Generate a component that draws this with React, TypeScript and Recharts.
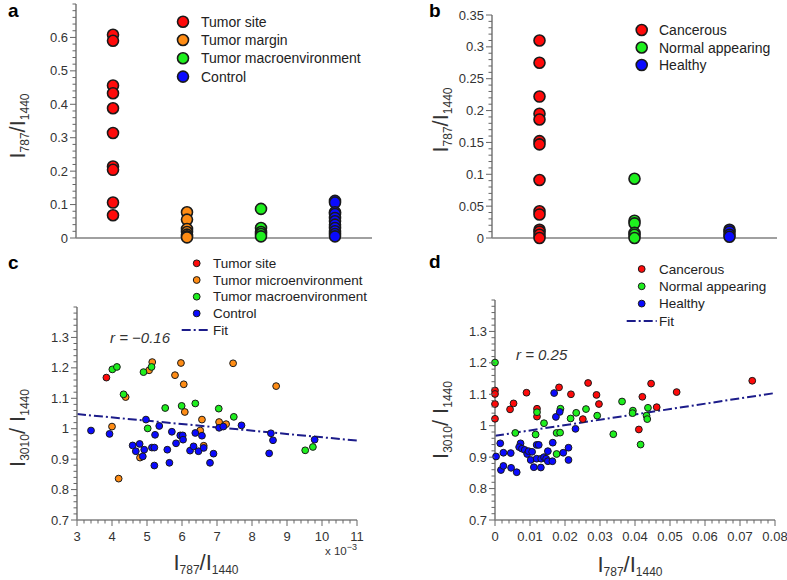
import React from "react";
import { ScatterChart, Scatter, XAxis, YAxis, ReferenceLine } from "recharts";

// ---- panel a: I787/I1440 by tissue group ----
const groupsA = ["Tumor site", "Tumor margin", "Tumor macroenvironment", "Control"];
const aTumorSite = [0.608, 0.59, 0.456, 0.433, 0.388, 0.314, 0.214, 0.204, 0.106, 0.068];
const aTumorMargin = [0.077, 0.055, 0.027, 0.018, 0.01, 0.005, 0.002];
const aMacro = [0.087, 0.03, 0.018, 0.012, 0.005];
const aControl = [0.111, 0.106, 0.077, 0.072, 0.06, 0.05, 0.04, 0.03, 0.02, 0.012, 0.005];

// ---- panel b ----
const groupsB = ["Cancerous", "Normal appearing", "Healthy"];
const bCancerous = [0.31, 0.275, 0.222, 0.195, 0.186, 0.152, 0.147, 0.091, 0.042, 0.037, 0.013, 0.01, 0.005, 0.0];
const bNormal = [0.093, 0.027, 0.023, 0.008, 0.005, 0.0];
const bHealthy = [0.013, 0.01, 0.005, 0.002];

// ---- panel c: I3010/I1440 vs I787/I1440 (x in 1e-3) ----
const cLegend = ["Tumor site", "Tumor microenvironment", "Tumor macroenvironment", "Control"];
const cSiteX = [3.84];
const cSiteY = [1.168];
const cMicroX = [5.15, 5.06, 5.97, 5.8, 6.05, 7.46, 8.69, 4.39, 6.08, 6.57, 7.06, 7.26, 4.0, 6.52, 4.8, 6.62, 4.19];
const cMicroY = [1.219, 1.192, 1.216, 1.176, 1.146, 1.215, 1.14, 1.104, 1.055, 1.03, 1.022, 1.015, 1.007, 0.994, 0.905, 0.944, 0.836];
const cMacroX = [4.01, 4.14, 5.13, 4.9, 4.33, 5.52, 5.99, 6.38, 7.05, 7.48, 5.02, 9.52, 9.74];
const cMacroY = [1.195, 1.203, 1.203, 1.186, 1.113, 1.068, 1.075, 1.083, 1.066, 1.039, 1.001, 0.929, 0.94];
const cControlX = [4.97, 5.35, 3.4, 3.93, 5.71, 5.23, 5.95, 6.02, 6.03, 6.38, 6.57, 4.59, 4.79, 4.68, 4.92, 5.14, 5.21, 5.58, 5.83, 4.88, 5.21, 5.64, 6.23, 6.33, 6.47, 6.62, 6.9, 6.8, 7.06, 7.18, 7.7, 8.54, 8.6, 9.79, 8.49];
const cControlY = [1.03, 1.009, 0.994, 0.983, 0.99, 0.98, 0.978, 0.978, 0.964, 0.986, 0.977, 0.945, 0.95, 0.926, 0.931, 0.938, 0.938, 0.931, 0.952, 0.909, 0.879, 0.888, 0.928, 0.942, 0.926, 0.937, 0.918, 0.888, 1.003, 1.007, 1.011, 0.985, 0.962, 0.964, 0.919];
const cFitX = [3, 11];
const cFitY = [1.048, 0.961];

// ---- panel d ----
const dCancerX = [0, 0, 0, 0, 0.009, 0.0053, 0.0043, 0.0183, 0.0217, 0.0266, 0.029, 0.0297, 0.012, 0.012, 0.0251, 0.0446, 0.0421, 0.0519, 0.0735, 0.0462, 0.0411];
const dCancerY = [1.112, 1.101, 1.069, 1.022, 1.105, 1.071, 1.052, 1.122, 1.1, 1.136, 1.098, 1.069, 1.054, 1.029, 1.021, 1.134, 1.092, 1.107, 1.143, 1.059, 0.988];
const dNormalX = [0, 0.012, 0.0187, 0.0232, 0.0216, 0.026, 0.0292, 0.014, 0.0058, 0.0116, 0.0176, 0.0186, 0.0176, 0.0363, 0.0338, 0.0394, 0.0393, 0.0437, 0.0433, 0.0435, 0.0416];
const dNormalY = [1.201, 1.043, 1.054, 1.041, 1.023, 1.053, 1.032, 1.008, 0.977, 0.972, 0.977, 0.978, 0.91, 1.077, 0.973, 1.048, 1.04, 1.057, 1.032, 1.021, 0.94];
const dHealthyX = [0.0003, 0.0015, 0.0024, 0.0017, 0.0024, 0.0046, 0.0045, 0.0062, 0.0073, 0.0069, 0.0077, 0.0085, 0.0092, 0.0096, 0.0102, 0.0106, 0.0111, 0.0119, 0.0119, 0.0125, 0.0131, 0.0132, 0.014, 0.0146, 0.0151, 0.0151, 0.0164, 0.0165, 0.0195, 0.021, 0.021, 0.0174, 0.0185, 0.0169, 0.023];
const dHealthyY = [0.902, 0.944, 0.914, 0.859, 0.872, 0.866, 0.913, 0.852, 0.944, 0.932, 0.927, 0.923, 0.91, 0.919, 0.891, 0.917, 0.868, 0.939, 0.895, 0.939, 0.867, 0.895, 0.9, 0.895, 0.887, 0.919, 0.887, 0.946, 0.914, 0.93, 0.891, 1.028, 1.044, 1.104, 0.99];
const dFitX = [0, 0.08];
const dFitY = [0.968, 1.104];

// tick labels
const aMajor = [0, 0.1, 0.2, 0.3, 0.4, 0.5, 0.6];
const bMajor = [0, 0.05, 0.1, 0.15, 0.2, 0.25, 0.3, 0.35];
const cdYMajor = [0.7, 0.8, 0.9, 1, 1.1, 1.2, 1.3];
const cXMajor = [3, 4, 5, 6, 7, 8, 9, 10, 11];
const dXMajor = [0, 0.01, 0.02, 0.03, 0.04, 0.05, 0.06, 0.07, 0.08];

const RED = "#ff0a0a";
const ORANGE = "#ff8c14";
const GREEN = "#1eef1e";
const BLUE = "#0a0aff";
const NAVY = "#1c1c8a";
const FONT = "'Liberation Sans', Arial, sans-serif";
const AXIS = { stroke: "#808080", strokeWidth: 1.6 };

const steps = (from: number, to: number, step: number) => {
  const out: number[] = [];
  const n = Math.round((to - from) / step);
  for (let i = 0; i <= n; i++) out.push(Math.round((from + i * step) * 1e6) / 1e6);
  return out;
};
const isMajor = (majors: number[], v: number) => majors.some((m) => Math.abs(m - v) < 1e-7);
const fmt = (v: number) => String(Math.round(v * 1e6) / 1e6);

const yTick = (majors: number[]) => (p: any) => {
  const v = p.payload.value;
  const major = isMajor(majors, v);
  return (
    <g>
      <line x1={p.x} x2={p.x - (major ? 6 : 3.5)} y1={p.y} y2={p.y} stroke="#666" strokeWidth={1} />
      {major && (
        <text x={p.x - 8} y={p.y} textAnchor="end" dominantBaseline="central" fontSize={13} fill="#333" fontFamily={FONT}>
          {fmt(v)}
        </text>
      )}
    </g>
  );
};

const xTick = (majors: number[]) => (p: any) => {
  const v = p.payload.value;
  const major = isMajor(majors, v);
  return (
    <g>
      <line x1={p.x} x2={p.x} y1={p.y} y2={p.y + (major ? 6 : 3.5)} stroke="#666" strokeWidth={1} />
      {major && (
        <text x={p.x} y={p.y + 16} textAnchor="middle" dominantBaseline="central" fontSize={13} fill="#333" fontFamily={FONT}>
          {fmt(v)}
        </text>
      )}
    </g>
  );
};

const dot = (fill: string, r: number, sw: number) => (p: any) => (
  <circle cx={p.cx} cy={p.cy} r={r} fill={fill} stroke="#1a1a1a" strokeWidth={sw} />
);

const column = (i: number, vals: number[]) => vals.map((v) => ({ x: i + 0.5, y: v }));
const pairs = (xs: number[], ys: number[]) => xs.map((x, i) => ({ x, y: ys[i] }));

const RatioTitle = ({ x, y, top, rotate, gap }: { x: number; y: number; top: string; rotate?: boolean; gap?: string }) => (
  <text
    x={x}
    y={y}
    textAnchor="middle"
    fontFamily={FONT}
    fill="#333"
    transform={rotate ? `rotate(-90 ${x} ${y})` : undefined}
  >
    <tspan fontSize={22}>I</tspan>
    <tspan fontSize={12} dy={4}>{top}</tspan>
    <tspan fontSize={22} dy={-4}>{"/" + (gap || "") + "I"}</tspan>
    <tspan fontSize={12} dy={4}>1440</tspan>
  </text>
);

const legendRows = (
  labels: string[],
  colors: string[],
  cx: number,
  y0: number,
  dy: number,
  r: number,
  sw: number,
  tx: number,
  fs: number
) =>
  labels.map((l, i) => (
    <g key={l}>
      <circle cx={cx} cy={y0 + dy * i} r={r} fill={colors[i]} stroke="#1a1a1a" strokeWidth={sw} />
      <text x={tx} y={y0 + dy * i} dominantBaseline="central" fontSize={fs} fill="#222" fontFamily={FONT}>
        {l}
      </text>
    </g>
  ));

export default function App() {
  const colorsA = [RED, ORANGE, GREEN, BLUE];
  const colorsB = [RED, GREEN, BLUE];
  const seriesA = [aTumorSite, aTumorMargin, aMacro, aControl];
  const seriesB = [bCancerous, bNormal, bHealthy];

  return (
    <div style={{ position: "absolute", left: 0, top: 0, width: 787, height: 580, background: "#fff", fontFamily: FONT }}>
      {/* a */}
      <div style={{ position: "absolute", left: 0, top: 0 }}>
        <ScatterChart width={390} height={250} margin={{ top: 4, right: 18, bottom: 0, left: 0 }}>
          <XAxis type="number" dataKey="x" domain={[0, 4]} tick={false} tickLine={false} height={12} axisLine={AXIS} />
          <YAxis
            type="number"
            dataKey="y"
            domain={[0, 0.7]}
            ticks={steps(0, 0.7, 0.02)}
            interval={0}
            tick={yTick(aMajor)}
            tickLine={false}
            tickSize={0}
            tickMargin={0}
            width={76}
            axisLine={AXIS}
          />
          {seriesA.map((s, i) => (
            <Scatter key={groupsA[i]} name={groupsA[i]} data={column(i, s)} shape={dot(colorsA[i], 5.5, 1.6)} isAnimationActive={false} />
          ))}
        </ScatterChart>
      </div>
      {/* b */}
      <div style={{ position: "absolute", left: 390, top: 0 }}>
        <ScatterChart width={397} height={250} margin={{ top: 15, right: 10, bottom: 0, left: 0 }}>
          <XAxis type="number" dataKey="x" domain={[0, 3]} tick={false} tickLine={false} height={12} axisLine={AXIS} />
          <YAxis
            type="number"
            dataKey="y"
            domain={[0, 0.35]}
            ticks={steps(0, 0.35, 0.01)}
            interval={0}
            tick={yTick(bMajor)}
            tickLine={false}
            tickSize={0}
            tickMargin={0}
            width={102}
            axisLine={AXIS}
          />
          {seriesB.map((s, i) => (
            <Scatter key={groupsB[i]} name={groupsB[i]} data={column(i, s)} shape={dot(colorsB[i], 5.5, 1.6)} isAnimationActive={false} />
          ))}
        </ScatterChart>
      </div>
      {/* c */}
      <div style={{ position: "absolute", left: 0, top: 250 }}>
        <ScatterChart width={390} height={330} margin={{ top: 57, right: 33, bottom: 0, left: 0 }}>
          <XAxis
            type="number"
            dataKey="x"
            domain={[3, 11]}
            ticks={steps(3, 11, 0.2)}
            interval={0}
            tick={xTick(cXMajor)}
            tickLine={false}
            tickSize={0}
            tickMargin={0}
            height={60}
            axisLine={AXIS}
          />
          <YAxis
            type="number"
            dataKey="y"
            domain={[0.7, 1.4]}
            ticks={steps(0.7, 1.4, 0.02)}
            interval={0}
            tick={yTick(cdYMajor)}
            tickLine={false}
            tickSize={0}
            tickMargin={0}
            width={77}
            axisLine={AXIS}
          />
          <ReferenceLine
            segment={[
              { x: cFitX[0], y: cFitY[0] },
              { x: cFitX[1], y: cFitY[1] },
            ]}
            stroke={NAVY}
            strokeWidth={2}
            strokeDasharray="9 3 2 3"
          />
          <Scatter name="Tumor site" data={pairs(cSiteX, cSiteY)} shape={dot(RED, 3.4, 1)} isAnimationActive={false} />
          <Scatter name="Tumor microenvironment" data={pairs(cMicroX, cMicroY)} shape={dot(ORANGE, 3.4, 1)} isAnimationActive={false} />
          <Scatter name="Tumor macroenvironment" data={pairs(cMacroX, cMacroY)} shape={dot(GREEN, 3.4, 1)} isAnimationActive={false} />
          <Scatter name="Control" data={pairs(cControlX, cControlY)} shape={dot(BLUE, 3.4, 1)} isAnimationActive={false} />
        </ScatterChart>
      </div>
      {/* d */}
      <div style={{ position: "absolute", left: 390, top: 250 }}>
        <ScatterChart width={397} height={330} margin={{ top: 50, right: 12, bottom: 0, left: 0 }}>
          <XAxis
            type="number"
            dataKey="x"
            domain={[0, 0.08]}
            ticks={steps(0, 0.08, 0.002)}
            interval={0}
            tick={xTick(dXMajor)}
            tickLine={false}
            tickSize={0}
            tickMargin={0}
            height={60}
            axisLine={AXIS}
          />
          <YAxis
            type="number"
            dataKey="y"
            domain={[0.7, 1.4]}
            ticks={steps(0.7, 1.4, 0.02)}
            interval={0}
            tick={yTick(cdYMajor)}
            tickLine={false}
            tickSize={0}
            tickMargin={0}
            width={105}
            axisLine={AXIS}
          />
          <ReferenceLine
            segment={[
              { x: dFitX[0], y: dFitY[0] },
              { x: dFitX[1], y: dFitY[1] },
            ]}
            stroke={NAVY}
            strokeWidth={2}
            strokeDasharray="9 3 2 3"
          />
          <Scatter name="Cancerous" data={pairs(dCancerX, dCancerY)} shape={dot(RED, 3.4, 1)} isAnimationActive={false} />
          <Scatter name="Normal appearing" data={pairs(dNormalX, dNormalY)} shape={dot(GREEN, 3.4, 1)} isAnimationActive={false} />
          <Scatter name="Healthy" data={pairs(dHealthyX, dHealthyY)} shape={dot(BLUE, 3.4, 1)} isAnimationActive={false} />
        </ScatterChart>
      </div>

      {/* labels, legends and annotations */}
      <svg width={787} height={580} style={{ position: "absolute", left: 0, top: 0, pointerEvents: "none" }}>
        <g fontFamily={FONT} fontWeight="bold" fontSize={19} fill="#000">
          <text x={8} y={17}>a</text>
          <text x={429} y={17}>b</text>
          <text x={8} y={269}>c</text>
          <text x={429} y={268}>d</text>
        </g>

        {legendRows(groupsA, colorsA, 183, 21.7, 18.3, 5.5, 1.6, 201, 14)}
        {legendRows(groupsB, colorsB, 641.7, 30, 17.5, 5.5, 1.6, 659, 14)}
        {legendRows(cLegend, [RED, ORANGE, GREEN, BLUE], 196.7, 263.3, 16.7, 3.4, 1, 213, 13.5)}
        <line x1={181.7} x2={210} y1={330} y2={330} stroke={NAVY} strokeWidth={2} strokeDasharray="9 3 2 3" />
        <text x={213} y={330} dominantBaseline="central" fontSize={13.5} fill="#222" fontFamily={FONT}>Fit</text>
        {legendRows(groupsB, colorsB, 641.7, 269, 17.3, 3.4, 1, 659, 13.5)}
        <line x1={626.7} x2={656.7} y1={321} y2={321} stroke={NAVY} strokeWidth={2} strokeDasharray="9 3 2 3" />
        <text x={659} y={321} dominantBaseline="central" fontSize={13.5} fill="#222" fontFamily={FONT}>Fit</text>

        <text x={110} y={343} fontSize={15} fontStyle="italic" fill="#333" fontFamily={FONT}>r = −0.16</text>
        <text x={516} y={360} fontSize={15} fontStyle="italic" fill="#333" fontFamily={FONT}>r = 0.25</text>

        <RatioTitle x={25} y={126} top="787" rotate />
        <RatioTitle x={448} y={120} top="787" rotate />
        <RatioTitle x={25} y={428} top="3010" gap=" " rotate />
        <RatioTitle x={448} y={420} top="3010" gap=" " rotate />
        <RatioTitle x={206} y={570} top="787" />
        <RatioTitle x={630} y={572} top="787" />

        <text x={325} y={555} fontSize={11.5} fill="#333" fontFamily={FONT}>
          x 10<tspan fontSize={9} dy={-5}>−3</tspan>
        </text>
      </svg>
    </div>
  );
}
